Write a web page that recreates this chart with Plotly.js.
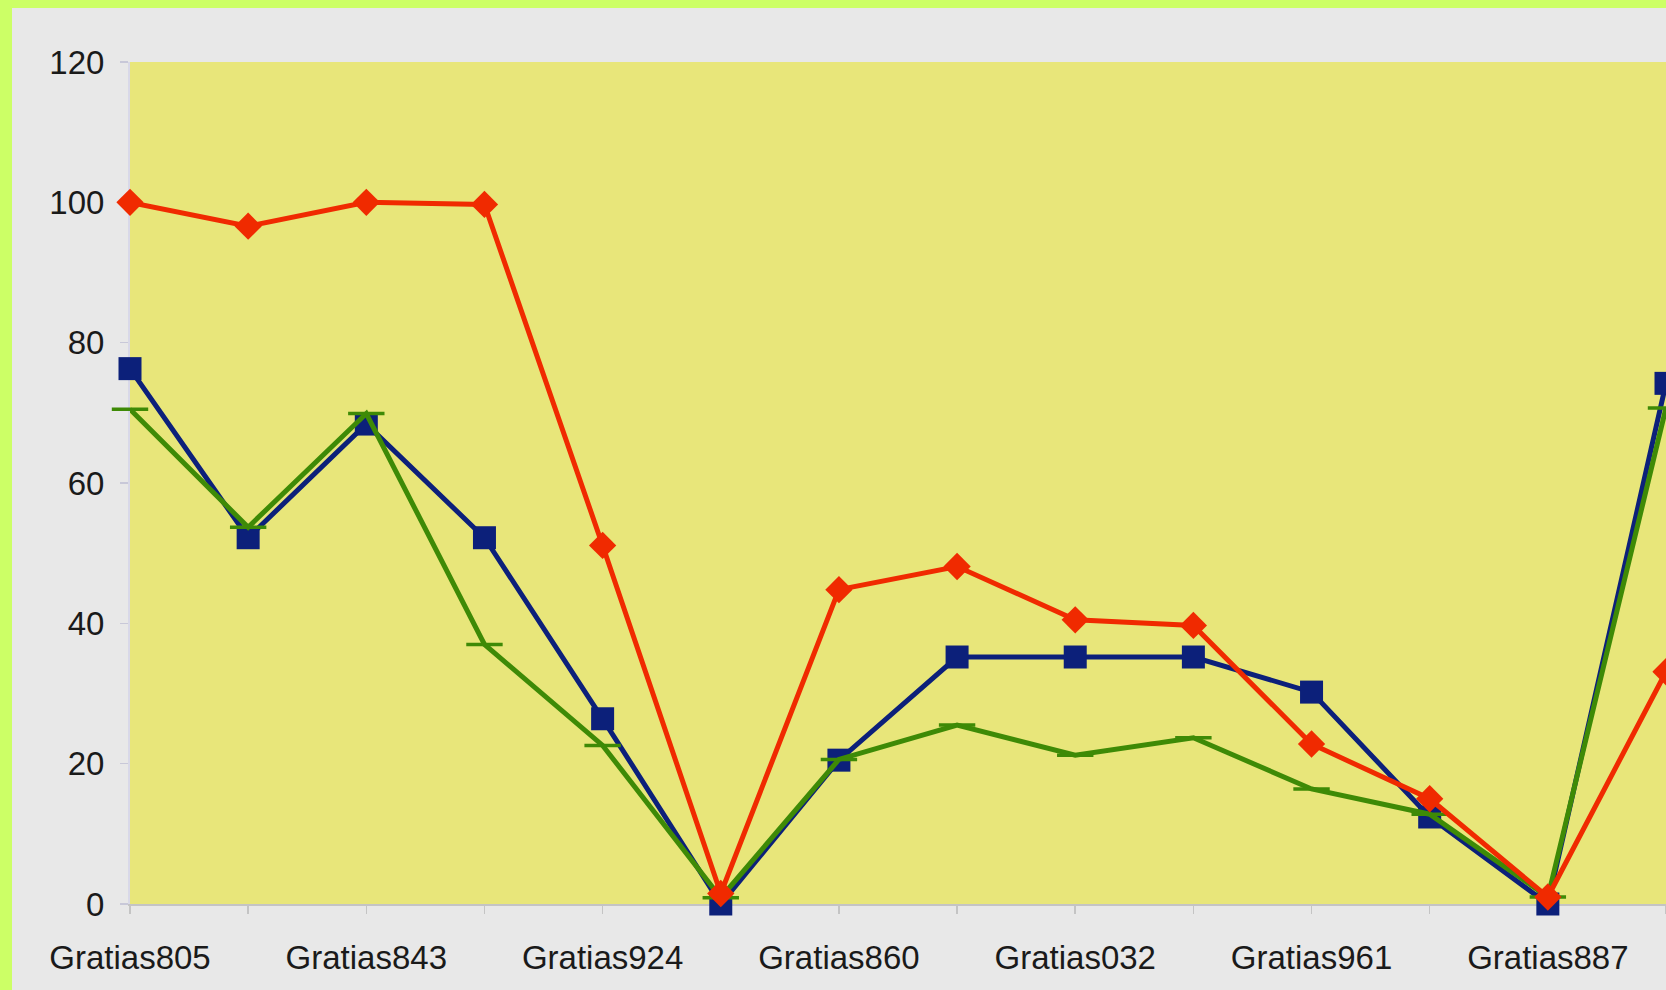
<!DOCTYPE html>
<html>
<head>
<meta charset="utf-8">
<script src="https://cdn.plot.ly/plotly-3.0.1.min.js"></script>
<style>
  html, body { margin: 0; padding: 0; background: #ccff66; width: 1666px; height: 990px; overflow: hidden; }
  #chart { position: absolute; left: 12px; top: 8px; width: 1654px; height: 982px; }
</style>
</head>
<body>
<div id="chart"></div>
<script>
// Category positions (0..13); only every second category is labelled in the reference
const positions = [0, 1, 2, 3, 4, 5, 6, 7, 8, 9, 10, 11, 12, 13];
const tickPositions = [0, 2, 4, 6, 8, 10, 12];
const tickLabels = ["Gratias805", "Gratias843", "Gratias924", "Gratias860", "Gratias032", "Gratias961", "Gratias887"];

const redValues   = [100, 96.6, 100, 99.7, 51.1, 1.5, 44.8, 48.1, 40.5, 39.7, 22.8, 15.0, 1.0, 33.1];
const blueValues  = [76.3, 52.2, 68.4, 52.2, 26.4, 0, 20.5, 35.2, 35.2, 35.2, 30.2, 12.4, 0, 74.2];
const greenValues = [70.5, 53.7, 69.9, 37.0, 22.6, 0.9, 20.6, 25.5, 21.2, 23.7, 16.4, 12.8, 1.0, 70.7];

const traces = [
  {
    x: positions, y: blueValues, type: "scatter", mode: "lines+markers",
    line: {color: "#0c207a", width: 5},
    marker: {symbol: "square", size: 23, color: "#0c207a"},
    cliponaxis: false, showlegend: false
  },
  {
    x: positions, y: greenValues, type: "scatter", mode: "lines+markers",
    line: {color: "#3e8a06", width: 5},
    marker: {symbol: "line-ew", size: 26, color: "#3e8a06", line: {color: "#3e8a06", width: 3.5}},
    cliponaxis: false, showlegend: false
  },
  {
    x: positions, y: redValues, type: "scatter", mode: "lines+markers",
    line: {color: "#f02a00", width: 5},
    marker: {symbol: "diamond", size: 21, color: "#f02a00"},
    cliponaxis: false, showlegend: false
  }
];

const layout = {
  width: 1654, height: 982,
  margin: {l: 118, r: 0, t: 54, b: 86},
  paper_bgcolor: "#e8e8e8",
  plot_bgcolor: "#e8e67a",
  font: {family: "Liberation Sans, Arial, sans-serif", size: 33, color: "#1a1a1a"},
  xaxis: {
    range: [0, 13],
    tickmode: "array", tickvals: positions,
    ticktext: positions.map(p => { const i = tickPositions.indexOf(p); return i >= 0 ? tickLabels[i] : ""; }),
    showgrid: false, zeroline: false,
    showline: true, linecolor: "#c4c4c4", linewidth: 1.5,
    ticks: "outside", ticklen: 8, tickcolor: "#c4c4c4", tickwidth: 1.5,
    ticklabelstandoff: 16,
    layer: "below traces",
    fixedrange: true
  },
  yaxis: {
    range: [0, 120], tickmode: "array", tickvals: [0, 20, 40, 60, 80, 100, 120],
    showgrid: false, zeroline: false,
    showline: true, linecolor: "#d8d8e8", linewidth: 2,
    ticks: "outside", ticklen: 8, tickcolor: "#c8c8d8", tickwidth: 1.5,
    ticklabelstandoff: 9,
    layer: "below traces",
    fixedrange: true
  }
};

Plotly.newPlot("chart", traces, layout, {displayModeBar: false, staticPlot: true});
</script>
</body>
</html>
